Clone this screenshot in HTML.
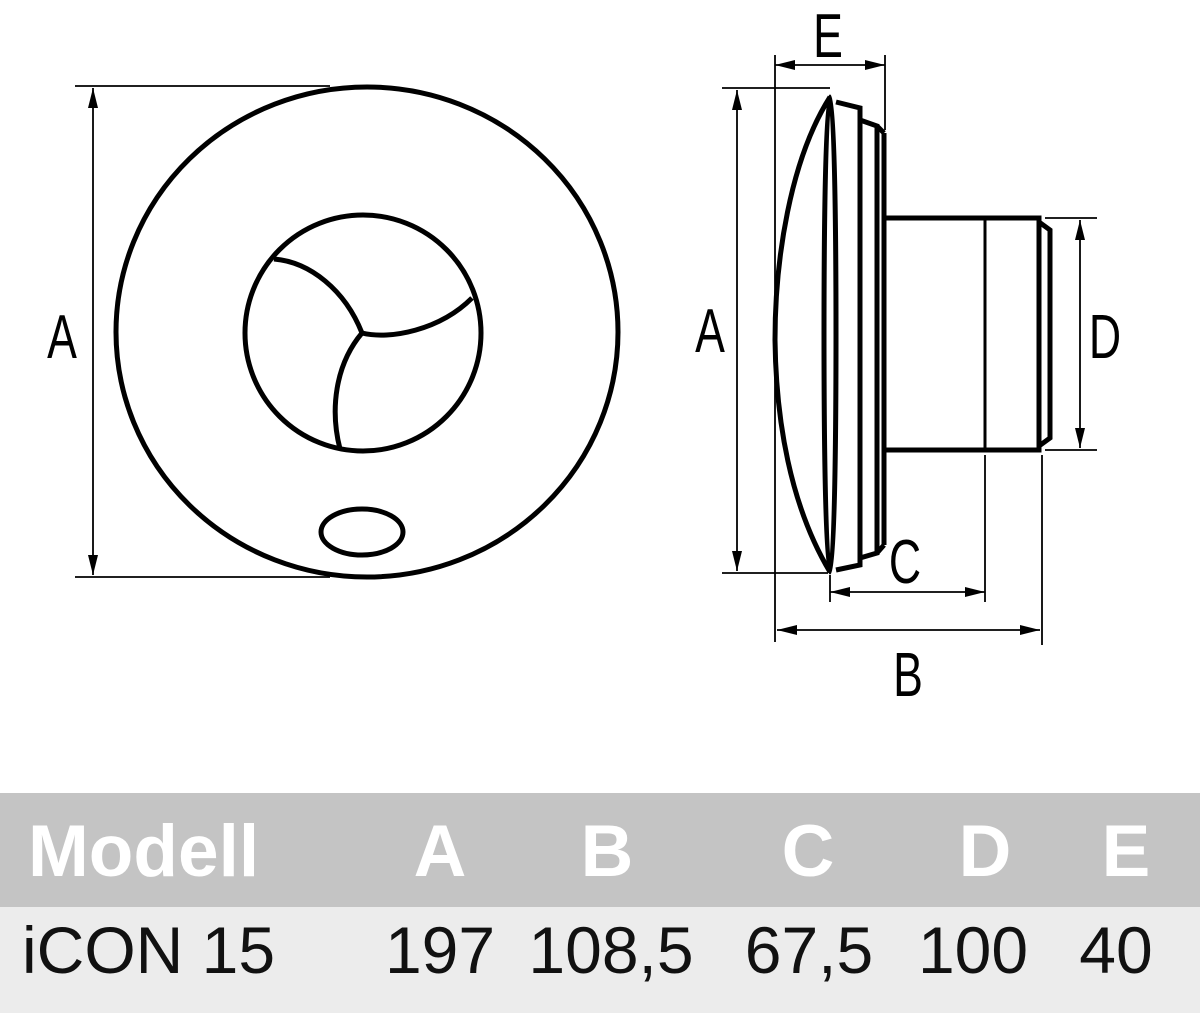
<!DOCTYPE html>
<html><head><meta charset="utf-8"><style>
html,body{margin:0;padding:0;background:#fff;}
svg{display:block}
</style></head><body>
<svg width="1200" height="1013" viewBox="0 0 1200 1013" xmlns="http://www.w3.org/2000/svg">
<defs>
<marker id="ar" viewBox="0 0 20 10" refX="20" refY="5" markerWidth="20" markerHeight="10" markerUnits="userSpaceOnUse" orient="auto-start-reverse">
<path d="M0,0 L20,5 L0,10 z" fill="#000"/></marker>
</defs>
<rect width="1200" height="1013" fill="#fff"/>
<!-- front view -->
<g fill="none" stroke="#000">
<ellipse cx="367" cy="332" rx="251" ry="245" stroke-width="5"/>
<circle cx="363" cy="333" r="118" stroke-width="5"/>
<path d="M274,259 C310,262 345,290 362,333" stroke-width="5"/>
<path d="M362,333 C390,340 440,330 472,298" stroke-width="5"/>
<path d="M362,333 C335,365 330,410 340,449" stroke-width="5"/>
<ellipse cx="362" cy="532" rx="41" ry="23" stroke-width="5"/>
<!-- dims A left -->
<g stroke-width="1.8">
<line x1="75" y1="86" x2="330" y2="86"/>
<line x1="75" y1="577" x2="330" y2="577"/>
<line x1="93" y1="88" x2="93" y2="575" marker-start="url(#ar)" marker-end="url(#ar)"/>
</g>
<!-- side view -->
<path d="M830,97 C790,160 775,260 775,340 C776,420 790,505 830,572" stroke-width="5"/>
<path d="M830,97 C822,97 822,572 830,572 C838,572 838,97 830,97 Z" stroke-width="5"/>
<path d="M836,102 L860,108 L860,565 L836,570" stroke-width="5"/>
<path d="M860,120 L877,126 L877,553 L860,558" stroke-width="5"/>
<line x1="884" y1="133" x2="884" y2="545" stroke-width="5"/>
<path d="M877,126 L884,133 M877,553 L884,545" stroke-width="5"/>
<path d="M884,218 L1039,218 L1039,450 L884,450" stroke-width="5"/>
<line x1="985" y1="220" x2="985" y2="448" stroke-width="3"/>
<path d="M1039,222 L1050,230 L1050,438 L1039,446" stroke-width="5"/>
<g stroke-width="1.8">
<line x1="775" y1="55" x2="775" y2="642"/>
<line x1="885" y1="55" x2="885" y2="130"/>
<line x1="775" y1="65" x2="885" y2="65" marker-start="url(#ar)" marker-end="url(#ar)"/>
<line x1="722" y1="88" x2="830" y2="88"/>
<line x1="722" y1="573" x2="828" y2="573"/>
<line x1="737" y1="90" x2="737" y2="571" marker-start="url(#ar)" marker-end="url(#ar)"/>
<line x1="1045" y1="218" x2="1097" y2="218"/>
<line x1="1045" y1="450" x2="1097" y2="450"/>
<line x1="1080" y1="220" x2="1080" y2="448" marker-start="url(#ar)" marker-end="url(#ar)"/>
<line x1="830" y1="575" x2="830" y2="602"/>
<line x1="985" y1="455" x2="985" y2="602"/>
<line x1="830" y1="592" x2="985" y2="592" marker-start="url(#ar)" marker-end="url(#ar)"/>
<line x1="1042" y1="455" x2="1042" y2="645"/>
<line x1="777" y1="630" x2="1040" y2="630" marker-start="url(#ar)" marker-end="url(#ar)"/>
</g>
</g>
<g font-family="Liberation Sans, sans-serif" font-size="62" fill="#000" text-anchor="middle">
<text transform="translate(62,358) scale(0.72,1)">A</text>
<text transform="translate(710,352) scale(0.72,1)">A</text>
<text transform="translate(828,57) scale(0.72,1)">E</text>
<text transform="translate(1105,358) scale(0.72,1)">D</text>
<text transform="translate(905,583) scale(0.72,1)">C</text>
<text transform="translate(908,696) scale(0.72,1)">B</text>
</g>
<!-- table -->
<rect x="0" y="793" width="1200" height="114" fill="#c4c4c4"/>
<rect x="0" y="907" width="1200" height="106" fill="#ececec"/>
<g font-family="Liberation Sans, sans-serif" font-size="73" font-weight="bold" fill="#fff">
<text x="28" y="876">Modell</text>
<g text-anchor="middle">
<text x="440" y="876">A</text>
<text x="607" y="876">B</text>
<text x="808" y="876">C</text>
<text x="985" y="876">D</text>
<text x="1126" y="876">E</text>
</g>
</g>
<g font-family="Liberation Sans, sans-serif" font-size="66" fill="#111">
<text x="22" y="973">iCON 15</text>
<g text-anchor="middle">
<text x="440" y="973">197</text>
<text x="611" y="973">108,5</text>
<text x="809" y="973">67,5</text>
<text x="973" y="973">100</text>
<text x="1116" y="973">40</text>
</g>
</g>
</svg>
</body></html>
